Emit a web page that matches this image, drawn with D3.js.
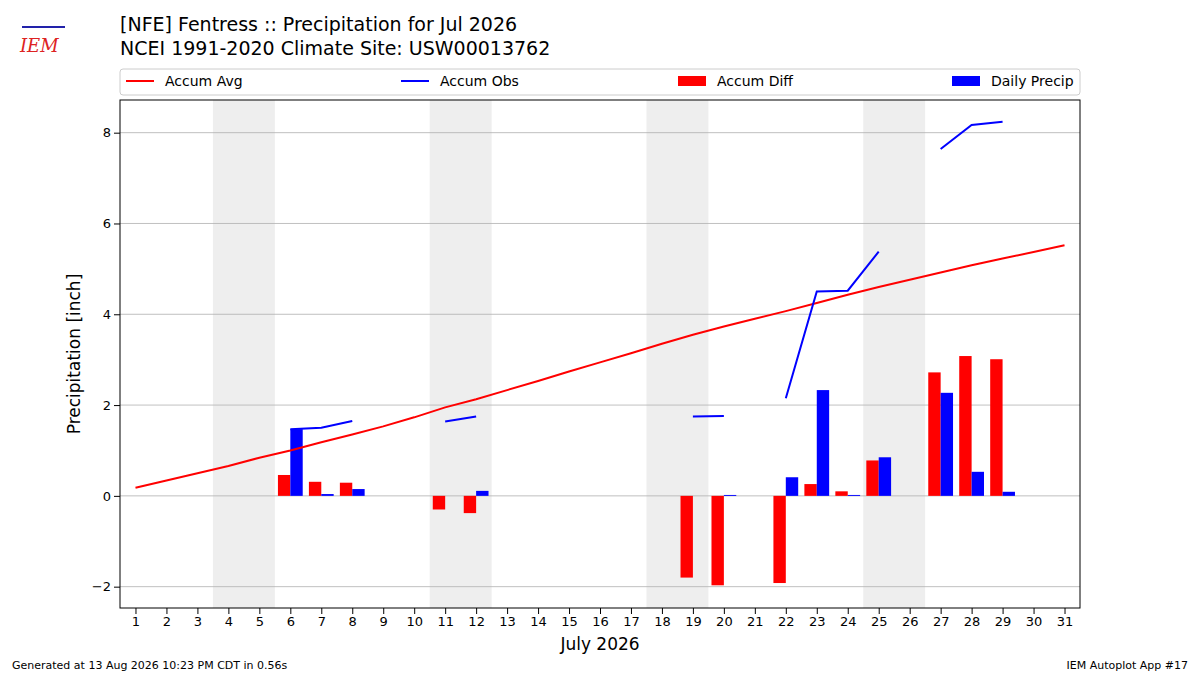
<!DOCTYPE html>
<html><head><meta charset="utf-8">
<script src="https://cdn.jsdelivr.net/npm/d3@7"></script>
<style>body{margin:0;background:#fff;font-family:"DejaVu Sans",sans-serif;}</style>
</head><body>
<script>
var days = d3.range(1, 32);
var accumAvg = [0.18,0.34,0.5,0.66,0.84,1.0,1.18,1.35,1.53,1.73,1.95,2.13,2.33,2.53,2.74,2.94,3.14,3.35,3.55,3.73,3.9,4.07,4.25,4.43,4.6,4.76,4.92,5.08,5.23,5.37,5.52];
var accumObs = [null,null,null,null,null,1.47,1.5,1.65,null,null,1.64,1.75,null,null,null,null,null,null,1.75,1.76,null,2.15,4.5,4.52,5.38,null,7.64,8.17,8.24,null,null];
var accumDiff = [null,null,null,null,null,0.46,0.31,0.29,null,null,-0.3,-0.38,null,null,null,null,null,null,-1.8,-1.97,null,-1.92,0.26,0.1,0.78,null,2.72,3.08,3.01,null,null];
var dailyPrecip = [null,null,null,null,null,1.47,0.04,0.15,null,null,0,0.11,null,null,null,null,null,null,0,0.02,null,0.41,2.33,0.02,0.85,null,2.27,0.53,0.09,null,null];
var weekends = [[4,5],[11,12],[18,19],[25,26]];
var yTicks = [-2,0,2,4,6,8];

var width = 1200, height = 675;
var m = {left:120, right:1080, top:100, bottom:608};

var svg = d3.select("body").append("svg").attr("width", width).attr("height", height);

var x = d3.scaleLinear().domain([0.5, 31.5]).range([m.left, m.right]);
var y = d3.scaleLinear().domain([-2.47, 8.72]).range([m.bottom, m.top]);

// weekend shading
svg.selectAll(".wk").data(weekends).enter().append("rect")
    .attr("x", d => x(d[0] - 0.5)).attr("width", d => x(d[1] + 0.5) - x(d[0] - 0.5))
    .attr("y", m.top).attr("height", m.bottom - m.top).attr("fill", "#eeeeee");

// grid
svg.selectAll(".grid").data(yTicks).enter().append("line")
    .attr("x1", m.left).attr("x2", m.right)
    .attr("y1", d => y(d)).attr("y2", d => y(d))
    .attr("stroke", "#b0b0b0").attr("stroke-width", 0.8);

var bw = x(1.4) - x(1);
svg.selectAll(".diff").data(days.filter((d, i) => accumDiff[i] != null)).enter().append("rect")
    .attr("x", d => x(d - 0.4)).attr("width", bw)
    .attr("y", d => y(Math.max(0, accumDiff[d-1])))
    .attr("height", d => Math.abs(y(accumDiff[d-1]) - y(0)))
    .attr("fill", "red");
svg.selectAll(".daily").data(days.filter((d, i) => dailyPrecip[i] != null)).enter().append("rect")
    .attr("x", d => x(d)).attr("width", bw)
    .attr("y", d => y(Math.max(0, dailyPrecip[d-1])))
    .attr("height", d => Math.abs(y(dailyPrecip[d-1]) - y(0)))
    .attr("fill", "blue");

var line = d3.line().defined(d => d[1] != null).x(d => x(d[0])).y(d => y(d[1]));
svg.append("path").datum(days.map((d, i) => [d, accumAvg[i]])).attr("d", line)
    .attr("fill", "none").attr("stroke", "red").attr("stroke-width", 2);
svg.append("path").datum(days.map((d, i) => [d, accumObs[i]])).attr("d", line)
    .attr("fill", "none").attr("stroke", "blue").attr("stroke-width", 2);

// axes
var xAxis = svg.append("g").attr("transform", "translate(0," + m.bottom + ")")
    .call(d3.axisBottom(x).tickValues(days).tickFormat(d3.format("d")).tickSizeOuter(0));
var yAxis = svg.append("g").attr("transform", "translate(" + m.left + ",0)")
    .call(d3.axisLeft(y).tickValues(yTicks).tickFormat(d => d < 0 ? "\u2212" + Math.abs(d) : d).tickSizeOuter(0));
[xAxis, yAxis].forEach(a => {
    a.selectAll("text").attr("font-size", 13).attr("font-family", "DejaVu Sans").attr("fill", "#000");
    a.select(".domain").remove();
});
svg.append("rect").attr("x", m.left).attr("y", m.top).attr("width", m.right - m.left)
    .attr("height", m.bottom - m.top).attr("fill", "none").attr("stroke", "#000");

svg.append("text").attr("x", (m.left + m.right) / 2).attr("y", 650).attr("text-anchor", "middle")
    .attr("font-size", 17).text("July 2026");
svg.append("text").attr("transform", "translate(80," + (m.top + m.bottom) / 2 + ") rotate(-90)")
    .attr("text-anchor", "middle").attr("font-size", 17).text("Precipitation [inch]");

// titles
svg.append("text").attr("x", 120).attr("y", 31).attr("font-size", 19).text("[NFE] Fentress :: Precipitation for Jul 2026");
svg.append("text").attr("x", 120).attr("y", 55).attr("font-size", 19).text("NCEI 1991-2020 Climate Site: USW00013762");

// legend
svg.append("rect").attr("x", 120).attr("y", 69).attr("width", 960).attr("height", 26).attr("rx", 3)
    .attr("fill", "#fff").attr("stroke", "#ccc");
var legend = [
    {name:"Accum Avg", color:"red", type:"line", x:126},
    {name:"Accum Obs", color:"blue", type:"line", x:401},
    {name:"Accum Diff", color:"red", type:"bar", x:678},
    {name:"Daily Precip", color:"blue", type:"bar", x:952}
];
legend.forEach(l => {
    if (l.type == "line") svg.append("line").attr("x1", l.x).attr("x2", l.x + 28).attr("y1", 81).attr("y2", 81)
        .attr("stroke", l.color).attr("stroke-width", 2);
    else svg.append("rect").attr("x", l.x).attr("y", 76).attr("width", 28).attr("height", 10).attr("fill", l.color);
    svg.append("text").attr("x", l.x + 39).attr("y", 86).attr("font-size", 14).text(l.name);
});

// footer
svg.append("text").attr("x", 12).attr("y", 669).attr("font-size", 11).text("Generated at 13 Aug 2026 10:23 PM CDT in 0.56s");
svg.append("text").attr("x", 1188).attr("y", 669).attr("text-anchor", "end").attr("font-size", 11).text("IEM Autoplot App #17");

// logo
svg.append("text").attr("x", 20).attr("y", 52).attr("font-size", 18).attr("font-style", "italic")
    .attr("font-family", "DejaVu Serif").attr("fill", "#d22").text("IEM");
svg.append("line").attr("x1", 22).attr("x2", 65).attr("y1", 27).attr("y2", 27).attr("stroke", "#22a").attr("stroke-width", 2);
</script>
</body></html>
